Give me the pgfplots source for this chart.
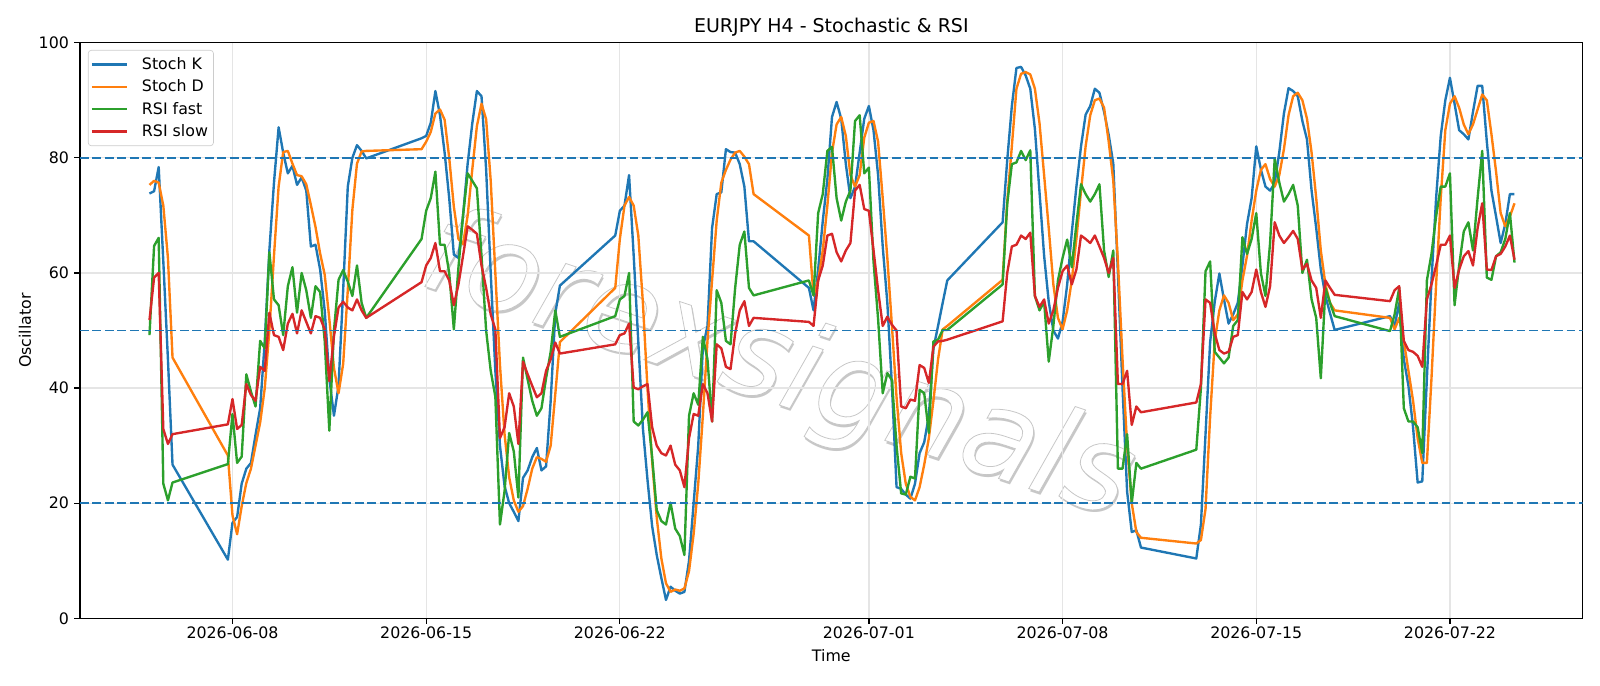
\documentclass[border=0pt]{standalone}
\usepackage{pgfplots}
\pgfplotsset{compat=1.18}
\usepackage{pgfplotstable}
\usepackage{fontspec}
\setmainfont{DejaVu Sans}
\definecolor{cK}{HTML}{1F77B4}
\definecolor{cD}{HTML}{FF7F0E}
\definecolor{cF}{HTML}{2CA02C}
\definecolor{cS}{HTML}{D62728}
\pgfplotstableread{
x K D F S
4.000 73.8 75.3 49.2 51.8
4.167 74.2 76.0 64.7 59.2
4.333 78.4 75.7 66.1 60.0
4.500 62.0 71.7 23.4 32.9
4.667 45.0 62.6 20.5 30.3
4.833 26.7 45.3 23.6 32.0
6.833 10.2 28.3 26.8 33.7
7.000 16.6 17.9 35.5 38.1
7.167 17.6 14.6 27.0 32.9
7.333 23.4 19.5 28.1 33.6
7.500 26.0 23.5 42.4 40.7
7.667 27.0 26.0 39.4 38.8
7.833 31.9 30.0 36.8 37.8
8.000 36.5 34.0 48.2 43.7
8.167 48.2 40.0 46.9 43.0
8.333 63.9 50.0 63.6 53.1
8.500 75.7 63.0 55.4 49.2
8.667 85.3 75.0 54.4 48.9
8.833 80.9 81.0 49.2 46.6
9.000 77.3 81.2 57.7 51.2
9.167 78.6 79.0 61.0 52.9
9.333 75.3 77.0 53.1 49.5
9.500 76.6 76.8 60.0 53.5
9.667 74.3 75.4 57.0 51.5
9.833 64.6 71.8 52.2 49.5
10.000 64.9 68.0 57.7 52.5
10.167 60.6 63.4 56.7 52.2
10.333 53.5 59.7 48.2 50.2
10.500 41.7 52.0 32.6 41.2
10.667 35.2 43.5 50.0 49.0
10.833 40.4 39.1 58.8 54.0
11.000 57.0 44.2 60.5 55.0
11.167 75.0 57.0 58.5 54.0
11.333 80.0 71.0 56.0 53.5
11.500 82.2 79.0 61.3 55.4
11.667 81.2 81.1 54.8 53.5
11.833 79.9 81.2 52.2 52.2
13.833 83.4 81.5 65.9 58.4
14.000 83.8 82.8 70.8 61.3
14.167 86.1 84.5 73.0 62.6
14.333 91.6 87.7 77.6 65.2
14.500 87.4 88.4 64.9 60.3
14.667 80.9 86.6 64.9 60.3
14.833 73.0 80.0 60.0 58.7
15.000 63.2 71.5 50.2 54.4
15.167 62.6 65.9 61.0 58.0
15.333 70.0 65.0 70.0 63.0
15.500 79.0 70.0 77.3 68.1
15.667 86.0 78.0 76.0 67.5
15.833 91.6 85.5 74.7 66.8
16.000 90.7 89.4 63.0 61.3
16.167 78.0 86.7 50.0 57.4
16.333 60.0 76.0 43.0 52.8
16.500 43.0 60.0 38.5 50.2
16.667 30.0 44.0 16.3 31.3
16.833 23.0 32.0 22.1 33.2
17.000 20.0 24.5 32.2 39.1
17.167 18.5 20.5 29.0 36.8
17.333 16.9 18.5 21.0 30.3
17.500 24.4 19.5 45.3 44.6
17.667 25.7 22.5 41.5 42.4
17.833 28.0 26.0 37.8 40.4
18.000 29.6 28.0 35.2 38.4
18.167 25.7 27.7 36.5 39.1
18.333 26.4 27.2 41.7 43.0
18.500 37.8 30.0 46.3 45.0
18.667 53.0 39.0 53.5 47.9
18.833 57.8 48.0 48.9 46.0
20.833 66.5 57.4 52.5 47.6
21.000 70.8 65.9 55.4 49.2
21.167 71.7 71.7 56.0 49.5
21.333 77.0 73.2 60.0 51.2
21.500 63.0 71.7 34.2 40.1
21.667 48.0 66.5 33.5 39.8
21.833 33.0 54.8 34.5 40.3
22.000 24.0 39.8 35.8 40.7
22.167 16.0 27.3 28.0 33.2
22.333 11.0 17.5 18.8 30.0
22.500 7.0 10.4 16.9 28.7
22.667 3.2 6.1 16.3 28.3
22.833 5.5 4.6 20.1 30.0
23.000 4.8 5.0 15.6 26.7
23.167 4.3 4.8 14.3 25.7
23.333 4.6 5.2 11.0 22.8
23.500 10.0 8.2 35.2 31.3
23.667 20.0 14.7 39.1 35.5
23.833 30.0 23.4 37.1 35.2
24.000 47.0 35.2 48.9 40.7
24.167 50.8 48.2 45.0 39.1
24.333 67.8 58.7 34.2 34.2
24.500 73.7 69.1 57.0 47.6
24.667 74.0 75.7 54.8 46.9
24.833 81.5 77.9 48.2 43.7
25.000 81.0 79.7 47.6 43.3
25.167 80.9 80.9 57.4 49.5
25.333 78.9 81.2 64.9 53.5
25.500 75.0 80.2 67.2 55.1
25.667 65.5 78.9 57.4 50.8
25.833 65.5 73.7 56.1 52.2
27.833 57.4 66.5 58.7 51.5
28.000 53.5 56.1 56.1 50.8
28.167 60.6 58.7 70.4 58.7
28.333 69.0 63.9 73.7 61.3
28.500 76.3 71.7 81.2 66.5
28.667 87.1 80.9 81.9 66.8
28.833 89.7 85.8 73.0 63.6
29.000 86.8 87.1 69.1 62.0
29.167 78.9 83.8 72.4 63.9
29.333 73.0 77.0 74.3 65.2
29.500 75.0 75.0 86.4 74.3
29.667 80.9 77.0 87.4 75.3
29.833 86.8 83.5 77.3 71.1
30.000 89.0 86.1 78.3 70.8
30.167 84.8 86.4 62.0 64.0
30.333 77.0 82.8 52.0 57.0
30.500 64.6 73.0 39.1 50.8
30.667 54.8 62.6 42.6 52.4
30.833 40.4 50.8 41.4 51.0
31.000 22.8 38.4 30.0 50.0
31.167 22.5 28.7 21.7 36.8
31.333 21.5 23.4 21.5 36.5
31.500 20.8 21.1 24.6 38.0
31.667 23.4 20.5 24.3 37.8
31.833 28.7 22.8 39.7 44.0
32.000 30.6 26.7 39.1 43.5
32.167 35.2 31.3 32.2 40.9
32.333 46.9 37.8 48.1 47.2
32.500 50.8 45.0 48.4 48.1
32.667 54.8 50.2 50.1 48.2
32.833 58.7 50.8 50.1 48.4
34.833 68.8 58.8 58.0 51.6
35.000 79.6 72.4 72.0 60.0
35.167 89.0 82.0 78.9 64.6
35.333 95.6 92.0 79.2 64.9
35.500 95.8 94.6 81.2 66.5
35.667 94.3 94.9 79.6 65.9
35.833 92.0 94.5 81.3 67.0
36.000 85.0 92.0 56.0 56.0
36.167 74.0 86.0 53.5 54.1
36.333 63.0 77.0 55.0 55.4
36.500 55.0 67.8 44.6 51.2
36.667 50.0 58.0 50.8 53.5
36.833 48.6 52.2 58.7 57.4
37.000 51.5 50.2 62.6 60.3
37.167 58.0 53.5 65.8 61.3
37.333 67.0 58.7 61.0 58.0
37.500 75.0 65.9 68.5 60.6
37.667 82.0 74.3 75.4 66.5
37.833 87.5 82.0 73.7 65.9
38.000 89.0 87.4 72.4 65.2
38.167 92.0 90.0 73.7 66.5
38.333 91.3 90.3 75.4 64.6
38.500 88.0 88.7 63.9 62.6
38.667 84.0 82.8 59.3 60.0
38.833 79.0 76.0 63.9 62.6
39.000 60.0 62.0 26.0 40.7
39.167 40.0 45.0 26.0 40.7
39.333 22.0 30.0 32.0 43.0
39.500 15.0 20.0 20.0 33.6
39.667 15.3 15.0 27.0 36.8
39.833 12.3 14.0 26.0 35.8
41.833 10.4 13.0 29.3 37.5
42.000 16.3 13.6 40.0 40.7
42.167 32.0 19.0 60.3 55.4
42.333 48.0 35.0 62.0 54.8
42.500 55.0 48.2 46.3 49.5
42.667 59.9 53.5 45.3 46.6
42.833 55.4 56.1 44.3 46.0
43.000 51.2 54.8 45.3 46.3
43.167 52.8 51.8 50.8 48.9
43.333 54.8 52.8 51.8 49.2
43.500 61.3 58.7 66.2 56.7
43.667 68.5 63.0 63.3 55.4
43.833 73.0 69.1 65.9 56.7
44.000 82.0 74.3 70.4 60.6
44.167 78.0 77.9 60.0 56.7
44.333 75.0 78.9 56.0 54.1
44.500 74.3 76.3 65.2 57.7
44.667 75.6 75.0 79.9 68.8
44.833 81.0 77.0 75.7 66.5
45.000 87.7 81.5 72.4 65.2
45.167 92.1 87.4 73.7 66.2
45.333 91.6 90.7 75.3 67.3
45.500 90.7 91.3 71.7 65.9
45.667 86.4 90.0 60.0 60.6
45.833 83.2 86.8 62.3 61.6
46.000 74.3 80.9 55.4 58.7
46.167 67.8 73.0 52.2 57.4
46.333 60.6 63.9 41.7 52.2
46.500 56.0 58.0 57.4 58.7
46.667 53.0 54.8 54.8 57.4
46.833 50.1 53.5 52.5 56.2
48.833 52.5 52.2 49.9 55.1
49.000 50.8 50.2 52.8 57.0
49.167 54.8 52.2 57.4 57.7
49.333 45.0 48.2 36.5 48.2
49.500 40.4 43.0 34.2 46.6
49.667 33.2 37.8 34.2 46.3
49.833 23.6 31.3 33.2 45.6
50.000 23.8 27.0 28.7 43.7
50.167 41.7 27.0 58.7 55.4
50.333 58.7 41.7 63.3 58.0
50.500 73.0 58.0 69.8 61.3
50.667 83.8 73.0 75.0 64.9
50.833 90.0 84.8 75.0 64.9
51.000 93.9 89.4 77.3 66.5
51.167 89.4 90.7 54.4 57.4
51.333 84.8 88.7 61.3 60.6
51.500 84.1 85.8 67.2 62.9
51.667 83.2 84.1 68.8 63.8
51.833 88.0 85.8 63.9 61.3
52.000 92.5 88.4 73.0 67.8
52.167 92.5 91.0 81.2 72.1
52.333 82.8 90.0 59.2 60.6
52.500 74.3 84.1 58.8 60.5
52.667 69.8 77.6 62.9 62.9
52.833 65.2 70.4 63.6 63.3
53.000 68.5 68.1 65.9 64.6
53.167 73.7 69.8 70.4 66.5
53.333 73.7 72.1 61.8 62.3
}\data
\pgfplotsset{myframe/.style={at={(0,0)}, anchor=south west,
  width=13.148in, height=5.037in, scale only axis,
  xmin=1.489, xmax=55.796, ymin=0, ymax=100}}
\begin{document}
\begin{tikzpicture}
\useasboundingbox (-0.700in,-0.5894in) rectangle (13.300in,5.4106in);
\begin{axis}[myframe, hide axis]
\node[rotate=-18.5, font=\fontsize{77}{77}\selectfont\itshape, text=black!22, xshift=1.5pt, yshift=-1.5pt] at (axis cs:26.7,43.3) {forexsignals};
\node[rotate=-18.5, font=\fontsize{77}{77}\selectfont\itshape, text=black!22] at (axis cs:26.7,43.3) {\special{pdf:literal direct 1 1 1 rg 2 Tr 0.5 w}forexsignals};
\end{axis}
\begin{axis}[
  myframe,
  xtick={7,14,21,30,37,44,51},
  xticklabels={2026-06-08,2026-06-15,2026-06-22,2026-07-01,2026-07-08,2026-07-15,2026-07-22},
  ytick={0,20,40,60,80,100},
  tick pos=left, tick align=outside,
  major tick length=3.5pt,
  every tick/.style={black, line width=0.8pt},
  grid=major, grid style={color=black!10, line width=0.8pt},
  axis line style={line width=0.8pt},
  ticklabel style={font=\fontsize{10}{12}\selectfont},
  xticklabel style={yshift=1.5pt},
  /pgf/number format/assume math mode=true,
  xlabel={Time}, ylabel={Oscillator},
  label style={font=\fontsize{10}{12}\selectfont},
  xlabel style={yshift=0pt},
  ylabel style={yshift=-2pt},
  title={EURJPY H4 - Stochastic \& RSI},
  title style={font=\fontsize{12}{14}\selectfont, yshift=-5.5pt},
  legend cell align=left,
  legend style={at={(axis description cs:0,1)}, xshift=5pt, yshift=-4.6pt, anchor=north west,
    font=\fontsize{10}{12}\selectfont, draw=black!20, fill=white, rounded corners=2pt,
    inner xsep=1.5pt, inner ysep=2.5pt, row sep=1pt},
  legend image code/.code={\draw[#1, line width=1.5pt] (0pt,0pt) -- (22pt,0pt); \path (29pt,0pt);},
  every axis plot/.append style={line width=1.5pt, line join=round},
]
\addplot[cK] table[x=x,y=K] {\data};
\addlegendentry{Stoch K}
\addplot[cD] table[x=x,y=D] {\data};
\addlegendentry{Stoch D}
\addplot[cF] table[x=x,y=F] {\data};
\addlegendentry{RSI fast}
\addplot[cS] table[x=x,y=S] {\data};
\addlegendentry{RSI slow}
\addplot[forget plot, cK, line width=1.2pt, dash pattern=on 5.5pt off 2.4pt] coordinates {(1.489,80) (55.796,80)};
\addplot[forget plot, cK, line width=1.2pt, dash pattern=on 5.5pt off 2.4pt] coordinates {(1.489,50) (55.796,50)};
\addplot[forget plot, cK, line width=1.2pt, dash pattern=on 5.5pt off 2.4pt] coordinates {(1.489,20) (55.796,20)};
\end{axis}
\end{tikzpicture}
\end{document}
